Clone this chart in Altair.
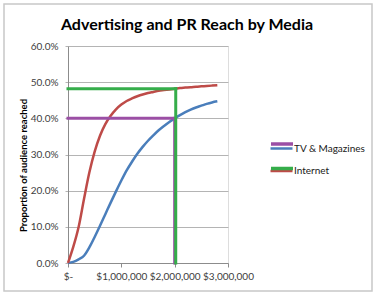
import altair as alt
import pandas as pd

# ---------------- data ----------------
spend = [0, 100000, 200000, 300000, 400000, 500000, 600000, 700000, 800000, 900000,
         1000000, 1100000, 1200000, 1300000, 1400000, 1500000, 1600000, 1700000, 1800000, 1900000,
         2000000, 2100000, 2200000, 2300000, 2400000, 2500000, 2600000, 2700000, 2800000]
tv_reach = [0.000, 0.003, 0.010, 0.020, 0.043, 0.072, 0.103, 0.135, 0.167, 0.198,
            0.228, 0.256, 0.280, 0.302, 0.321, 0.338, 0.353, 0.367, 0.379, 0.390,
            0.400, 0.409, 0.417, 0.424, 0.430, 0.435, 0.440, 0.444, 0.447]
internet_reach = [0.000, 0.045, 0.100, 0.177, 0.250, 0.308, 0.352, 0.384, 0.407, 0.425,
                  0.438, 0.448, 0.455, 0.461, 0.466, 0.470, 0.473, 0.476, 0.478, 0.480,
                  0.482, 0.484, 0.485, 0.486, 0.4875, 0.4885, 0.4895, 0.4905, 0.4915]
series_names = ["TV & Magazines", "Internet"]
series_colors = ["#4a7ebb", "#be4b48"]
ref_names = ["TV target", "Internet target"]
ref_colors = ["#9b4fa5", "#35ad4a"]
ref_spend = [2000000, 2020000]
ref_reach = [0.400, 0.482]
x_ticks = [0, 1000000, 2000000, 3000000]
y_ticks = [0.0, 0.1, 0.2, 0.3, 0.4, 0.5, 0.6]

FONT = "Lato"

curves = pd.DataFrame(
    [{"spend": s, "reach": r, "series": series_names[0]} for s, r in zip(spend, tv_reach)]
    + [{"spend": s, "reach": r, "series": series_names[1]} for s, r in zip(spend, internet_reach)]
)

rule_rows = []
for name, xs, yr in zip(ref_names, ref_spend, ref_reach):
    rule_rows.append({"ref": name, "x": 0, "x2": xs, "y": yr, "y2": yr})
    rule_rows.append({"ref": name, "x": xs, "x2": xs, "y": 0, "y2": yr})
rules = pd.DataFrame(rule_rows)

xscale = alt.Scale(domain=[0, 3000000], nice=False)
yscale = alt.Scale(domain=[0, 0.6], nice=False)

xaxis = alt.Axis(values=x_ticks, grid=False, title=None, labelOverlap=False, labelFlush=False,
                 labelExpr="datum.value == 0 ? '$-' : '$' + format(datum.value, ',')",
                 labelFont=FONT, labelFontSize=10, labelColor="#404040",
                 domainColor="#8c8c8c", tickColor="#8c8c8c", tickSize=4, labelPadding=4)
yaxis = alt.Axis(values=y_ticks, format=".1%", grid=True, gridColor="#b4b4b4",
                 labelOverlap=False, labelFlush=False,
                 title="Proportion of audience reached", titleFont=FONT, titleFontSize=9.5,
                 titleFontWeight="bold", titleColor="black", titleX=-45, titleY=119,
                 titleAlign="center", titleBaseline="middle", titleAngle=270,
                 labelFont=FONT, labelFontSize=10, labelColor="#404040",
                 domainColor="#8c8c8c", tickColor="#b4b4b4", tickSize=3, labelPadding=7)

border = alt.Chart(pd.DataFrame({"k": [0]})).mark_rect(
    fill=None, stroke="#c8c8c8", strokeWidth=1.5
).encode(x=alt.value(-64), x2=alt.value(304), y=alt.value(-42), y2=alt.value(245))

lines = alt.Chart(curves).mark_line(strokeWidth=2.5, interpolate="monotone").encode(
    x=alt.X("spend:Q", scale=xscale, axis=xaxis),
    y=alt.Y("reach:Q", scale=yscale, axis=yaxis),
    color=alt.Color("series:N", scale=alt.Scale(domain=series_names, range=series_colors),
                    legend=alt.Legend(orient="none", legendX=201, legendY=90, title=None,
                                      symbolType="stroke", symbolSize=484, symbolStrokeWidth=2.5,
                                      labelFont=FONT, labelFontSize=10, labelColor="#202020",
                                      rowPadding=4.5, padding=0, labelOffset=0)),
)

refs = alt.Chart(rules).mark_rule(strokeWidth=3, strokeCap="square").encode(
    x=alt.X("x:Q", scale=xscale, axis=xaxis),
    x2="x2:Q",
    y=alt.Y("y:Q", scale=yscale, axis=yaxis),
    y2="y2:Q",
    stroke=alt.Stroke("ref:N", scale=alt.Scale(domain=ref_names, range=ref_colors),
                      legend=alt.Legend(orient="none", legendX=201, legendY=85, title=None,
                                        symbolType="stroke", symbolSize=484, symbolStrokeWidth=3.5,
                                        labelExpr="''", labelFontSize=10,
                                        rowPadding=4.5, padding=0, labelOffset=0)),
)

chart = alt.layer(border, lines, refs).properties(
    width=160, height=217,
    autosize=alt.AutoSizeParams(type="none"),
    padding={"left": 68, "top": 46, "right": 152, "bottom": 34},
    title=alt.TitleParams("Advertising and PR Reach by Media", font=FONT, fontSize=16,
                          fontWeight="bold", color="black", anchor="middle", dx=39,
                          baseline="alphabetic", offset=-43),
).configure_view(stroke=None).configure(background="white")

chart.save("out.html", embed_options={"renderer": "svg", "actions": False})
